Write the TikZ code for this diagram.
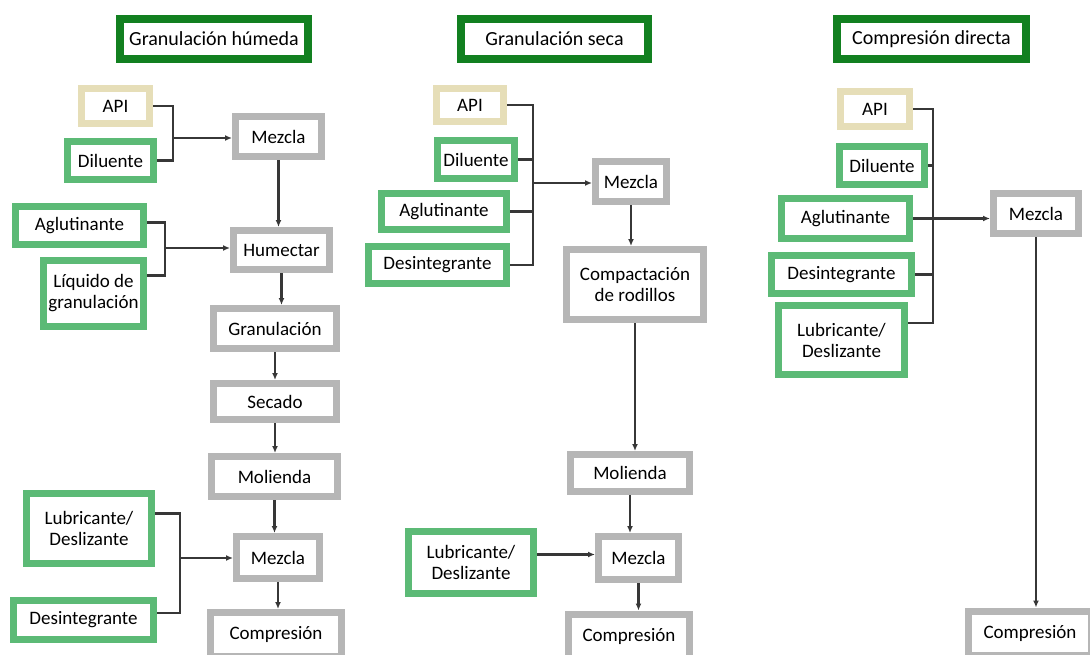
\documentclass[tikz,border=0pt]{standalone}
\usepackage{fontspec}
\setmainfont{Carlito}
\usetikzlibrary{arrows.meta}

\definecolor{titlegreen}{RGB}{18,128,32}
\definecolor{inggreen}{RGB}{92,186,118}
\definecolor{apibeige}{RGB}{230,222,184}
\definecolor{procgray}{RGB}{182,182,182}
\definecolor{linkgray}{RGB}{55,55,55}

\tikzset{
  box/.style={draw, line width=7pt, fill=white, inner sep=0pt, align=center,
    font=\fontsize{19}{21}\selectfont},
  titlebox/.style={box, draw=titlegreen, line width=8pt,
    font=\fontsize{20}{22}\selectfont},
  api/.style={box, draw=apibeige},
  ingr/.style={box, draw=inggreen},
  proc/.style={box, draw=procgray},
  sz/.style 2 args={minimum width=#1pt, minimum height=#2pt},
  link/.style={draw=linkgray, line width=2.2pt},
  arr/.style={link, -{Latex[length=7pt,width=6pt]}},
}

\begin{document}
\begin{tikzpicture}[x=1pt, y=-1pt]
    \useasboundingbox (0,0) rectangle (1090,654);

    % Granulacion humeda
    \node[titlebox, sz={188}{40}] (t1) at (214,39) {Granulación húmeda};
    \node[api, sz={68}{35}] (a1) at (115.5,106) {API};
    \node[ingr, sz={86}{38}] (d1) at (110.5,160.5) {Diluente};
    \node[proc, sz={86}{40}] (m1) at (278.5,136.5) {Mezcla};
    \node[ingr, sz={128}{38}] (g1) at (79.5,225.5) {Aglutinante};
    \node[ingr, sz={100}{66}] (l1) at (93.5,293.5) {Líquido de\\granulación};
    \node[proc, sz={96}{39}] (h1) at (281.5,250) {Humectar};
    \node[proc, sz={123}{40}] (gr1) at (275,328.5) {Granulación};
    \node[proc, sz={123}{36}] (s1) at (275,401.5) {Secado};
    \node[proc, sz={126}{40}] (mo1) at (274.5,476.5) {Molienda};
    \node[ingr, sz={125}{70}] (lu1) at (89,528.5) {Lubricante/\\Deslizante};
    \node[proc, sz={83}{42}] (m2) at (278,557.5) {Mezcla};
    \node[ingr, sz={140}{39}] (de1) at (83.5,620) {Desintegrante};
    \node[proc, sz={131}{44}] (c1) at (276,634.5) {Compresión};

    % joints of the brackets
    \coordinate (j1) at (173,138);
    \coordinate (j2) at (165,248);
    \coordinate (j3) at (180,558);

    \draw[link] (a1.east) -| (j1) |- (d1.east);
    \draw[arr] (j1) -- (j1 -| m1.west);
    \draw[link] ([yshift=3pt]g1.east) -| (j2) |- ([yshift=18pt]l1.east);
    \draw[arr] (j2) -- (j2 -| h1.west);
    \draw[link] ([yshift=15pt]lu1.east) -| (j3) |- ([yshift=7pt]de1.east);
    \draw[arr] (j3) -- (j3 -| m2.west);

    \draw[arr] (m1.south) -- (m1.south |- h1.north);
    \draw[arr] (h1.south) -- (h1.south |- gr1.north);
    \draw[arr] (gr1.south) -- (gr1.south |- s1.north);
    \draw[arr] (s1.south) -- (s1.south |- mo1.north);
    \draw[arr] (mo1.south) -- (mo1.south |- m2.north);
    \draw[arr] (m2.south) -- (m2.south |- c1.north);

    % Granulacion seca
    \node[titlebox, sz={187}{40}] (t2) at (554.5,39) {Granulación seca};
    \node[api, sz={67}{33}] (a2) at (470,105) {API};
    \node[ingr, sz={77}{38}] (d2) at (476,159.5) {Diluente};
    \node[ingr, sz={125}{36}] (g2) at (444,211.5) {Aglutinante};
    \node[ingr, sz={138}{37}] (de2) at (437.5,265) {Desintegrante};
    \node[proc, sz={71}{40}] (m3) at (631,181.5) {Mezcla};
    \node[proc, sz={137}{70}] (k2) at (635,284.5) {Compactación\\de rodillos};
    \node[proc, sz={119}{37}] (mo2) at (630,473) {Molienda};
    \node[ingr, sz={125}{62}] (lu2) at (471,562.5) {Lubricante/\\Deslizante};
    \node[proc, sz={80}{43}] (m4) at (638.5,558) {Mezcla};
    \node[proc, sz={121}{44}] (c2) at (629,636) {Compresión};

    \coordinate (j4) at (533,183);

    \draw[link] (a2.east) -| (j4) |- (de2.east);
    \draw[link] (d2.east) -- (d2.east -| j4);
    \draw[link] (g2.east) -- (g2.east -| j4);
    \draw[arr] (j4) -- (j4 -| m3.west);

    \draw[arr] (m3.south) -- (m3.south |- k2.north);
    \draw[arr] (k2.south) -- (k2.south |- mo2.north);
    \draw[arr] (mo2.south) -- (mo2.south |- m4.north);
    \draw[arr] ([yshift=8pt]lu2.east) -- ([yshift=8pt]lu2.east -| m4.west);
    \draw[arr] (m4.south) -- (m4.south |- c2.north);

    % Compresion directa
    \node[titlebox, sz={189}{40}] (t3) at (931.5,39) {Compresión directa};
    \node[api, sz={69}{35}] (a3) at (875,109) {API};
    \node[ingr, sz={85}{38}] (d3) at (882,165.5) {Diluente};
    \node[ingr, sz={128}{40}] (g3) at (845.5,218.5) {Aglutinante};
    \node[ingr, sz={140}{38}] (de3) at (841.5,274.5) {Desintegrante};
    \node[ingr, sz={126}{69}] (lu3) at (841.5,340) {Lubricante/\\Deslizante};
    \node[proc, sz={85}{40}] (m5) at (1036,213.5) {Mezcla};
    \node[proc, sz={123}{44}] (c3) at (1030,633) {Compresión};

    \coordinate (j5) at (933,323);

    \draw[link] (a3.east) -| (j5) -- ([yshift=17pt]lu3.east);
    \draw[link] (d3.east) -- (d3.east -| j5);
    \draw[link] (de3.east) -- (de3.east -| j5);
    \draw[arr] (g3.east) -- (g3.east -| m5.west);

    \draw[arr] (m5.south) -- (m5.south |- c3.north);
\end{tikzpicture}
\end{document}
